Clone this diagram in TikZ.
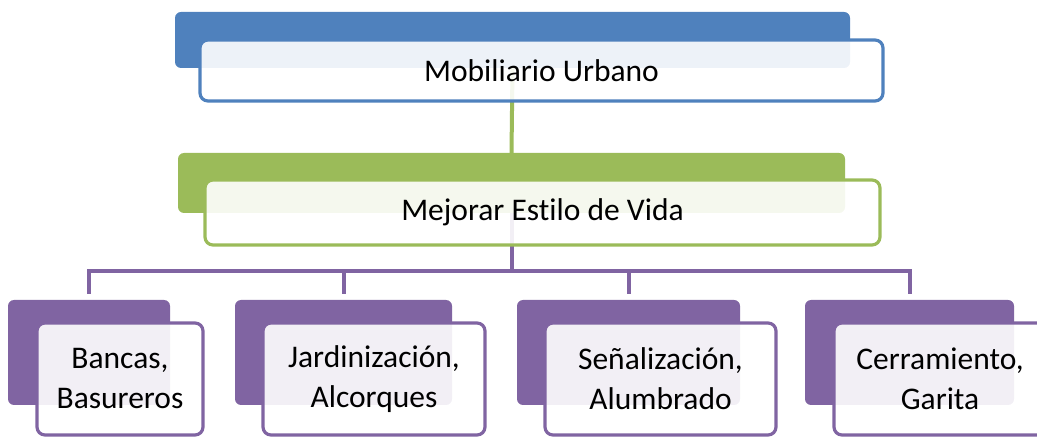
\documentclass[tikz,border=0pt]{standalone}
\usepackage{fontspec}
\setmainfont{Carlito}[Ligatures=NoCommon]
\definecolor{cblue}{HTML}{4F81BD}
\definecolor{cgreen}{HTML}{9BBB59}
\definecolor{cpurple}{HTML}{8064A2}
\begin{document}
\begin{tikzpicture}[x=1pt,y=-1pt,
  backbox/.style={rounded corners=6pt, fill=#1, draw=none, inner sep=0pt},
  frontbox/.style={rounded corners=8pt, fill=white, fill opacity=0.9, text opacity=1,
     draw=#1, draw opacity=1, line width=3.2pt, inner sep=0pt, align=center,
     font=\fontsize{31.5}{40}\selectfont},
  conn/.style={line width=4pt, draw=#1}
]
\useasboundingbox (0,0) rectangle (1037,438);
% back boxes
\node[backbox=cblue, minimum width=675pt, minimum height=56pt] (tb) at (512.5,40) {};
\node[backbox=cgreen, minimum width=667pt, minimum height=60pt] (mb) at (511.5,183) {};
\node[backbox=cpurple, minimum width=162pt, minimum height=105pt] (b1) at (89,352.5) {};
\node[backbox=cpurple, minimum width=217pt, minimum height=105pt] (b2) at (343.5,352.5) {};
\node[backbox=cpurple, minimum width=223pt, minimum height=105pt] (b3) at (628.5,352.5) {};
\node[backbox=cpurple, minimum width=209pt, minimum height=105pt] (b4) at (909.5,352.5) {};
% connectors
\coordinate (bus) at (511.5,271);
\draw[conn=cgreen] (tb.south) -- (mb.north);
\draw[conn=cpurple] (mb.south) -- (bus);
\draw[conn=cpurple, shorten >=6pt] (bus) -| (b1.north);
\draw[conn=cpurple, shorten >=6pt] (bus) -| (b2.north);
\draw[conn=cpurple, shorten >=6pt] (bus) -| (b3.north);
\draw[conn=cpurple, shorten >=6pt] (bus) -| (b4.north);
% front boxes
\node[frontbox=cblue, minimum width=683pt, minimum height=61pt] (tf) at (541.5,70.5) {Mobiliario Urbano};
\node[frontbox=cgreen, minimum width=675pt, minimum height=65pt] (mf) at (542.5,212.5) {Mejorar Estilo de Vida};
\node[frontbox=cpurple, minimum width=166pt, minimum height=112pt] (f1) at (120,379) {Bancas,\\Basureros};
\node[frontbox=cpurple, minimum width=222pt, minimum height=112pt] (f2) at (374,379) {Jardinización,\\Alcorques};
\node[frontbox=cpurple, minimum width=231pt, minimum height=112pt] (f3) at (660.5,379) {Señalización,\\Alumbrado};
\node[frontbox=cpurple, minimum width=212pt, minimum height=112pt] (f4) at (940,379) {Cerramiento,\\Garita};
\end{tikzpicture}
\end{document}
